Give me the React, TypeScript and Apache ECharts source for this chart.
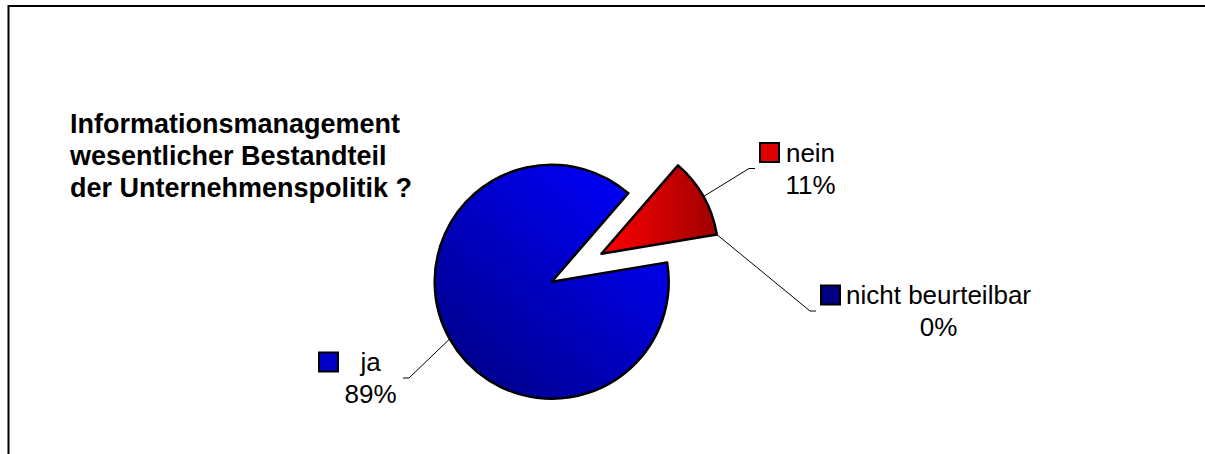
import React, { useEffect, useRef } from 'react';
import * as echarts from 'echarts';

// ---- data ----
const categories = ['ja', 'nein', 'nicht beurteilbar'];
const values = [89, 11, 0];
const titleLines = ['Informationsmanagement', 'wesentlicher Bestandteil', 'der Unternehmenspolitik ?'];

const FONT = '"Liberation Sans", Arial, Helvetica, sans-serif';
const LABEL_SIZE = 26;

function measure(text: string, size: number): number {
  const ctx = document.createElement('canvas').getContext('2d');
  if (!ctx) return text.length * size * 0.55;
  ctx.font = `normal ${size}px ${FONT}`;
  return ctx.measureText(text).width;
}

export default function App() {
  const ref = useRef<HTMLDivElement>(null);

  useEffect(() => {
    if (!ref.current) return;
    document.body.style.margin = '0';
    const chart = echarts.init(ref.current, null, { renderer: 'svg' });

    const center = [551.7, 281.7];
    const radius = 117;
    const startAngle = 9.5;
    const explodeDist = 57;
    const exploded = [false, true, true];

    // exploded slices move along the middle angle of the exploded block (nein)
    const total = values.reduce((a, b) => a + b, 0);
    const before = values[0];
    const midDeg = startAngle - (360 * (before + values[1] / 2)) / total;
    const midRad = (midDeg * Math.PI) / 180;
    const center2 = [center[0] + explodeDist * Math.cos(midRad), center[1] - explodeDist * Math.sin(midRad)];

    const sliceFill: any[] = [
      {
        type: 'linear', x: 0.15, y: 0.95, x2: 0.9, y2: 0.1,
        colorStops: [{ offset: 0, color: '#00008c' }, { offset: 1, color: '#0000fa' }],
      },
      {
        type: 'linear', x: 0, y: 0, x2: 1, y2: 0,
        colorStops: [{ offset: 0, color: '#ff0000' }, { offset: 1, color: '#a00000' }],
      },
      '#000080',
    ];
    const keyFill = ['#0000c8', '#dc0000', '#000080'];
    const anchors: any[] = [
      { x: 403, y: 378, align: 'right' },
      { x: 755, y: 168.5, align: 'left' },
      { x: 816, y: 311, align: 'left' },
    ];

    const makeData = (visibleWhen: boolean) =>
      categories.map((name, i) => {
        const visible = exploded[i] === visibleWhen;
        const pct = `${values[i]}%`;
        const w = Math.ceil(Math.max(measure(name, LABEL_SIZE), measure(pct, LABEL_SIZE)));
        const textTok = { width: w, align: 'center', fontSize: LABEL_SIZE, fontFamily: FONT, color: '#000', lineHeight: 32 };
        if (!visible) {
          return {
            name,
            value: values[i],
            itemStyle: { color: 'rgba(0,0,0,0)', borderWidth: 0 },
            label: { show: false },
            labelLine: { show: false },
          };
        }
        return {
          name,
          value: values[i],
          itemStyle: { color: sliceFill[i], borderColor: '#000', borderWidth: values[i] === 0 ? 0 : 2.5 },
          label: {
            show: true,
            formatter: `{box|}{gap|}{name|${name}}\n{sp|}{pct|${pct}}`,
            rich: {
              box: { width: 17, height: 17, backgroundColor: keyFill[i], borderColor: '#000', borderWidth: 2, align: 'left', lineHeight: 32 },
              gap: { width: 7, align: 'left', lineHeight: 32 },
              sp: { width: 24, align: 'left', lineHeight: 32 },
              name: { ...textTok },
              pct: { ...textTok },
            },
          },
        };
      });

    const baseSeries = (c: number[], visibleWhen: boolean) => ({
      type: 'pie',
      center: c,
      radius,
      startAngle,
      clockwise: true,
      silent: true,
      avoidLabelOverlap: false,
      emphasis: { disabled: true },
      label: {
        show: true,
        position: 'outside',
        fontFamily: FONT,
        fontSize: LABEL_SIZE,
        color: '#000',
        lineHeight: 32,
        padding: [0, 6, 0, 6],
      },
      labelLine: { show: true, length: 10, length2: 6, lineStyle: { color: '#000', width: 1 } },
      labelLayout: (params: any) => {
        const a = anchors[params.dataIndex];
        return { x: a.x, y: a.y, align: a.align, verticalAlign: 'middle' };
      },
      data: makeData(visibleWhen),
    });

    chart.setOption({
      animation: false,
      title: {
        text: titleLines.join('\n'),
        left: 70,
        top: 108,
        padding: 0,
        textStyle: { fontSize: 27, fontWeight: 'bold', fontFamily: FONT, color: '#000', lineHeight: 32 },
      },
      graphic: [
        {
          type: 'polyline',
          silent: true,
          shape: { points: [[1206, 6], [8.5, 6], [8.5, 456]] },
          style: { stroke: '#000', lineWidth: 2, fill: 'none' },
        },
      ],
      series: [baseSeries(center, false), baseSeries(center2, true)],
    });

    return () => chart.dispose();
  }, []);

  return (
    <div
      ref={ref}
      style={{ position: 'fixed', left: 0, top: 0, width: 1205, height: 454, background: '#fff' }}
    />
  );
}
